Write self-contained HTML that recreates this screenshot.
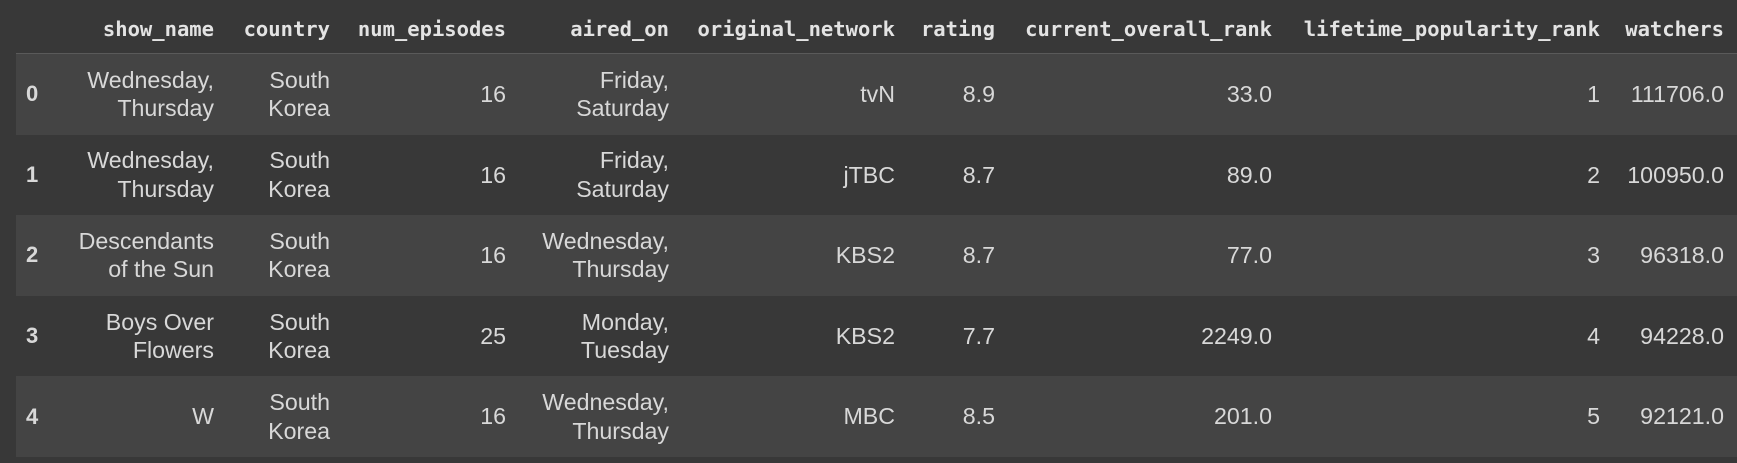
<!DOCTYPE html>
<html><head><meta charset="utf-8"><style>
html,body{margin:0;padding:0;background:#383838;width:1737px;height:463px;overflow:hidden}
.t{position:absolute;left:0;top:0;width:1737px;height:463px}
.hdr{position:absolute;left:16px;top:0;width:1721px;height:53px;border-bottom:1px solid #5a5a5a}
.h{position:absolute;top:17px;font:bold 20.5px "DejaVu Sans Mono","Liberation Mono",monospace;letter-spacing:0px;color:#e3e3e3;text-align:right;white-space:nowrap}
.row{position:absolute;left:16px;width:1721px;height:80.6px}
.row.s{background:#444444}
.c{position:absolute;top:0;height:80.6px;display:flex;align-items:center;justify-content:flex-end;text-align:right;font:23.2px/28.5px "Liberation Sans",sans-serif;color:#d8d8d8;white-space:nowrap}
.i{position:absolute;left:10px;top:0;height:80.6px;display:flex;align-items:center;font:bold 22px "Liberation Sans",sans-serif;color:#d8d8d8}
</style></head><body>
<div class="t" id="tbl">
<div class="hdr"></div>
</div>
<script>
const cols=["show_name","country","num_episodes","aired_on","original_network","rating","current_overall_rank","lifetime_popularity_rank","watchers"];
const rights=[214,330,506,669,895,995,1272,1600,1724];
const rows=[
["Wednesday,<br>Thursday","South<br>Korea","16","Friday,<br>Saturday","tvN","8.9","33.0","1","111706.0"],
["Wednesday,<br>Thursday","South<br>Korea","16","Friday,<br>Saturday","jTBC","8.7","89.0","2","100950.0"],
["Descendants<br>of the Sun","South<br>Korea","16","Wednesday,<br>Thursday","KBS2","8.7","77.0","3","96318.0"],
["Boys Over<br>Flowers","South<br>Korea","25","Monday,<br>Tuesday","KBS2","7.7","2249.0","4","94228.0"],
["W","South<br>Korea","16","Wednesday,<br>Thursday","MBC","8.5","201.0","5","92121.0"]
];
const t=document.getElementById('tbl');
cols.forEach((c,k)=>{
 const d=document.createElement('div');d.className='h';
 
 
 d.style.right=(1737-rights[k])+'px';d.textContent=c;t.appendChild(d);
});
rows.forEach((r,i)=>{
 const row=document.createElement('div');row.className='row'+(i%2==0?' s':'');
 
 
 row.style.top=(54+i*80.6)+'px';
 const ix=document.createElement('div');ix.className='i';ix.textContent=i;
 
 
 row.appendChild(ix);
 r.forEach((v,k)=>{
  const c=document.createElement('div');c.className='c';
  
  
  c.style.right=(1737-rights[k])+'px';c.innerHTML='<span>'+v+'</span>';row.appendChild(c);
 });
 t.appendChild(row);
});
</script>
</body></html>
